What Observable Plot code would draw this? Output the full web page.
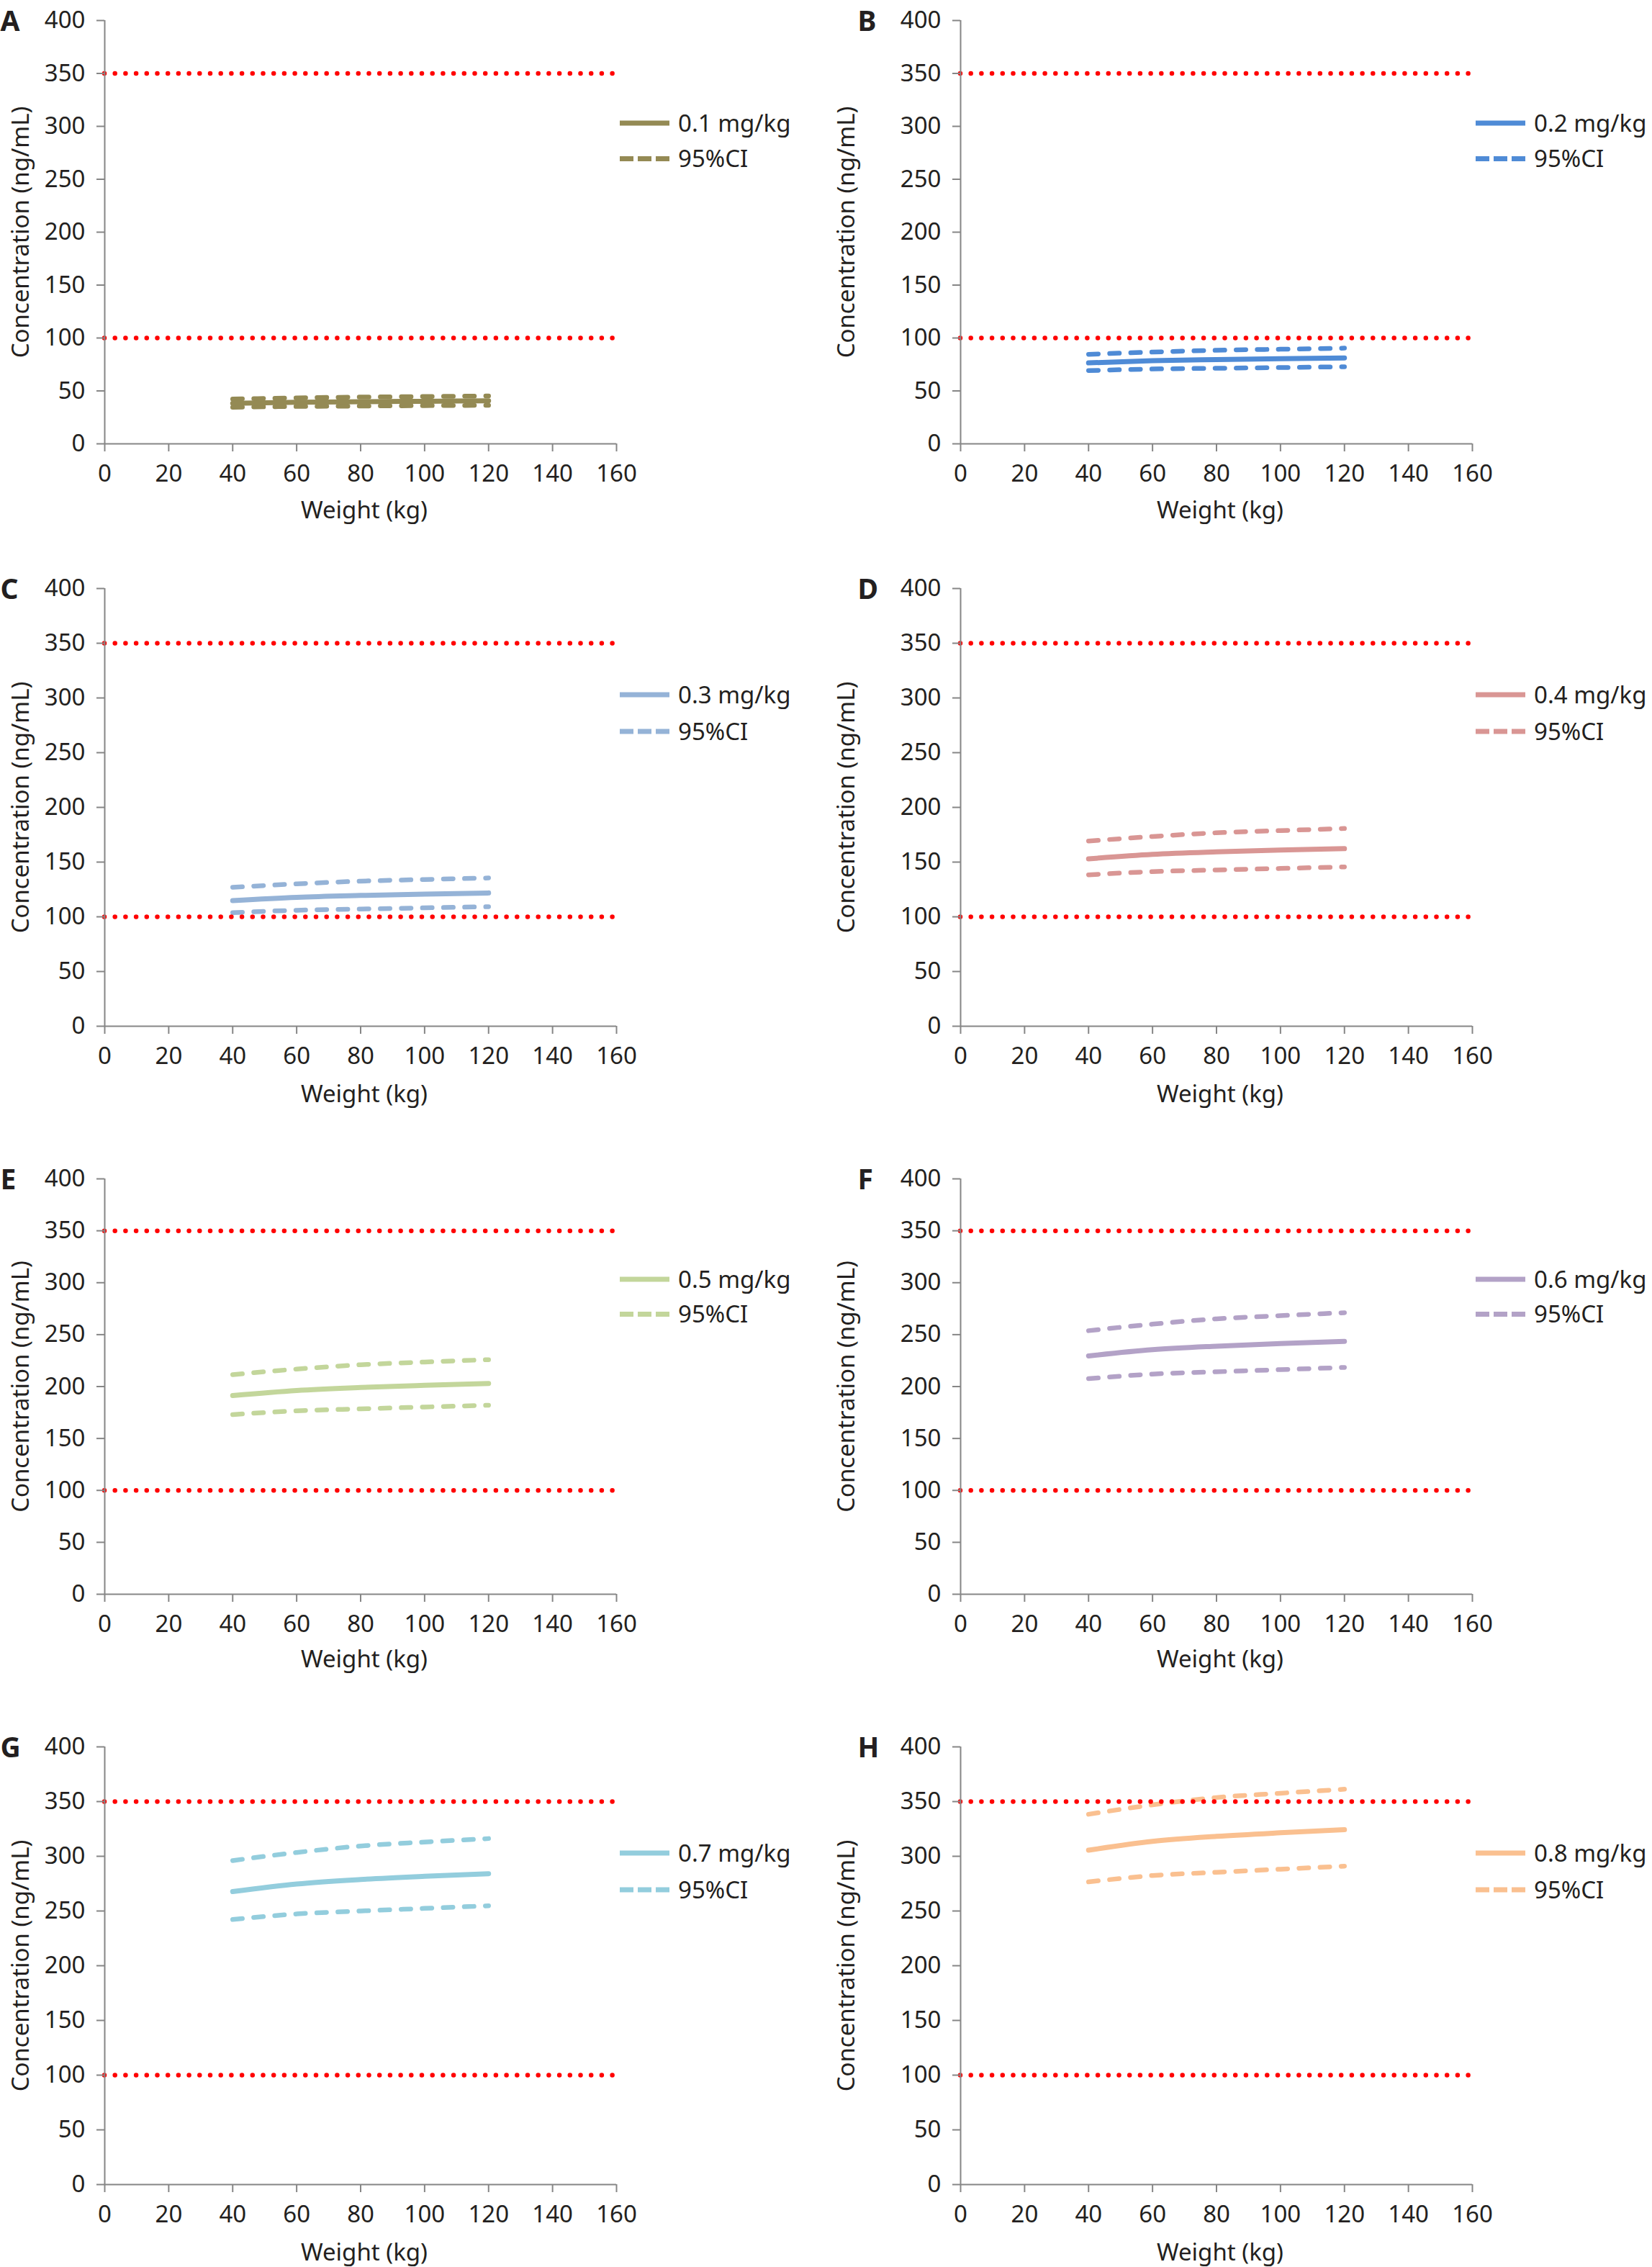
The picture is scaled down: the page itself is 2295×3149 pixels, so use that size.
<!DOCTYPE html>
<html>
<head>
<meta charset="utf-8">
<script src="https://cdn.jsdelivr.net/npm/d3@7"></script>
<script src="https://cdn.jsdelivr.net/npm/@observablehq/plot@0.6"></script>
<style>
  html, body { margin: 0; padding: 0; background: #ffffff; overflow: hidden; }
  #fig { position: relative; width: 2295px; height: 3149px; background: #ffffff; font-family: "Noto Sans", sans-serif; overflow: hidden; }
  .panel { position: absolute; }
  .legend { position: absolute; overflow: visible; }
</style>
</head>
<body>
<div id="fig"></div>
<script>
// ---------- data ----------
const weights = [40, 60, 80, 100, 120];
const xTicks = [0, 20, 40, 60, 80, 100, 120, 140, 160];
const yTicks = [0, 50, 100, 150, 200, 250, 300, 350, 400];
const limitLines = [100, 350];
const letters = ["A", "B", "C", "D", "E", "F", "G", "H"];
const doses = ["0.1 mg/kg", "0.2 mg/kg", "0.3 mg/kg", "0.4 mg/kg", "0.5 mg/kg", "0.6 mg/kg", "0.7 mg/kg", "0.8 mg/kg"];
const ciLabel = "95%CI";
const xTitle = "Weight (kg)";
const yTitle = "Concentration (ng/mL)";
const colors = ["#948A54", "#4F8BD6", "#95B3D7", "#D99694", "#C3D69B", "#B3A2C7", "#93CDDD", "#FAC090"];

const meanA  = [38.3, 39.3, 39.8, 40.2, 40.6];
const upperA = [42.3, 43.4, 44.2, 44.7, 45.2];
const lowerA = [34.6, 35.3, 35.7, 36.1, 36.4];

const meanB  = [76.5, 78.5, 79.6, 80.5, 81.2];
const upperB = [84.6, 86.7, 88.4, 89.4, 90.4];
const lowerB = [69.2, 70.7, 71.4, 72.1, 72.8];

const meanC  = [114.8, 117.8, 119.5, 120.8, 121.8];
const upperC = [126.9, 130.1, 132.6, 134.1, 135.5];
const lowerC = [103.8, 106.0, 107.1, 108.2, 109.2];

const meanD  = [153.0, 157.0, 159.3, 161.0, 162.3];
const upperD = [169.2, 173.4, 176.8, 178.8, 180.7];
const lowerD = [138.4, 141.3, 142.8, 144.2, 145.6];

const meanE  = [191.3, 196.2, 199.1, 201.2, 203.0];
const upperE = [211.5, 216.8, 221.0, 223.6, 225.9];
const lowerE = [173.0, 176.6, 178.5, 180.3, 182.0];

const meanF  = [229.5, 235.5, 238.9, 241.4, 243.5];
const upperF = [253.8, 260.1, 265.2, 268.3, 271.1];
const lowerF = [207.6, 212.0, 214.2, 216.3, 218.4];

const meanG  = [267.8, 274.7, 278.8, 281.7, 284.1];
const upperG = [296.1, 303.5, 309.4, 313.0, 316.2];
const lowerG = [242.2, 247.3, 250.0, 252.4, 254.8];

const meanH  = [305.6, 313.6, 318.2, 321.5, 324.3];
const upperH = [338.4, 347.0, 353.7, 357.6, 361.3];
const lowerH = [276.6, 282.4, 285.4, 288.2, 291.0];

const series = [
  [meanA, upperA, lowerA], [meanB, upperB, lowerB],
  [meanC, upperC, lowerC], [meanD, upperD, lowerD],
  [meanE, upperE, lowerE], [meanF, upperF, lowerF],
  [meanG, upperG, lowerG], [meanH, upperH, lowerH]
];

// ---------- layout ----------
const axisGray = "#868686";
const textColor = "#231F20";
const cols = [
  {left: 0,    width: 1147, axisX: 145,  rightX: 856,  letterX: 0},
  {left: 1147, width: 1148, axisX: 1334, rightX: 2045, letterX: 44}
];
const rows = [
  {top: 28,   bottom: 616,  mb: 130, titleDy: 93},
  {top: 817,  bottom: 1425, mb: 130, titleDy: 95},
  {top: 1637, bottom: 2214, mb: 130, titleDy: 91},
  {top: 2426, bottom: 3034, mb: 115, titleDy: 95}
];
const marginTop = 25;
const fig = document.getElementById("fig");

letters.forEach((letter, i) => {
  const col = cols[i % 2], row = rows[Math.floor(i / 2)];
  const [mean, upper, lower] = series[i];
  const color = colors[i];
  const table = (vals) => weights.map((w, j) => ({w, v: vals[j]}));
  const ml = col.axisX - col.left;
  const mr = col.left + col.width - col.rightX;
  const frameH = row.bottom - row.top;
  const height = marginTop + frameH + row.mb;

  const plot = Plot.plot({
    width: col.width,
    height,
    marginLeft: ml,
    marginRight: mr,
    marginTop,
    marginBottom: row.mb,
    style: {fontFamily: "'Noto Sans', sans-serif", fontSize: "33px", color: textColor, background: "transparent", overflow: "visible"},
    x: {domain: [0, 160]},
    y: {domain: [0, 400]},
    marks: [
      Plot.line(table(upper), {x: "w", y: "v", stroke: color, strokeWidth: 6.5, strokeDasharray: "13.5 15.8", strokeLinecap: "round", curve: "monotone-x"}),
      Plot.line(table(lower), {x: "w", y: "v", stroke: color, strokeWidth: 6.5, strokeDasharray: "13.5 15.8", strokeLinecap: "round", curve: "monotone-x"}),
      Plot.line(table(mean), {x: "w", y: "v", stroke: color, strokeWidth: 7, strokeLinecap: "round", curve: "monotone-x"}),
      Plot.ruleY(limitLines, {stroke: "#FF0000", strokeWidth: 6.5, strokeDasharray: "0 14.7", strokeLinecap: "round"}),
      Plot.axisY({ticks: yTicks, tickSize: 11, tickPadding: 16, stroke: axisGray, strokeWidth: 2, fill: textColor, label: null}),
      Plot.axisX({ticks: xTicks, tickSize: 11, tickPadding: 18, stroke: axisGray, strokeWidth: 2, fill: textColor, label: null}),
      Plot.ruleX([0], {stroke: axisGray, strokeWidth: 2}),
      Plot.ruleY([0], {stroke: axisGray, strokeWidth: 2}),
      Plot.text([xTitle], {frameAnchor: "bottom", dx: 5, dy: row.titleDy, text: d => d, textAnchor: "middle", lineAnchor: "middle", fontSize: 33, fill: textColor}),
      Plot.text([yTitle], {frameAnchor: "left", dx: -(ml - 29), rotate: -90, text: d => d, textAnchor: "middle", lineAnchor: "middle", fontSize: 33, fill: textColor}),
      Plot.text([letter], {frameAnchor: "top-left", dx: -(ml - col.letterX), dy: 2, textAnchor: "start", lineAnchor: "middle", text: d => d, fontSize: 39, fontWeight: "bold", fill: textColor})
    ]
  });

  const wrap = document.createElement("div");
  wrap.className = "panel";
  wrap.style.left = col.left + "px";
  wrap.style.top = (row.top - marginTop) + "px";
  wrap.appendChild(plot);
  fig.appendChild(wrap);

  // legend (drawn beside the plot frame)
  const ns = "http://www.w3.org/2000/svg";
  const lg = document.createElementNS(ns, "svg");
  lg.setAttribute("class", "legend");
  lg.setAttribute("width", 240);
  lg.setAttribute("height", 90);
  lg.style.left = (col.axisX + 713) + "px";
  const y1 = row.top + frameH * 0.243, y2 = row.top + frameH * 0.327;
  lg.style.top = (y1 - 20) + "px";
  const items = [
    {label: doses[i], dash: null, y: 20},
    {label: ciLabel, dash: "19 6", y: 20 + (y2 - y1)}
  ];
  items.forEach(it => {
    const ln = document.createElementNS(ns, "line");
    ln.setAttribute("x1", 3); ln.setAttribute("x2", 72);
    ln.setAttribute("y1", it.y); ln.setAttribute("y2", it.y);
    ln.setAttribute("stroke", color);
    ln.setAttribute("stroke-width", 7);
    if (it.dash) ln.setAttribute("stroke-dasharray", it.dash);
    lg.appendChild(ln);
    const tx = document.createElementNS(ns, "text");
    tx.setAttribute("x", 84); tx.setAttribute("y", it.y);
    tx.setAttribute("dy", "0.35em");
    tx.setAttribute("font-family", "'Noto Sans', sans-serif");
    tx.setAttribute("font-size", 33);
    tx.setAttribute("fill", textColor);
    tx.textContent = it.label;
    lg.appendChild(tx);
  });
  fig.appendChild(lg);
});
</script>
</body>
</html>
